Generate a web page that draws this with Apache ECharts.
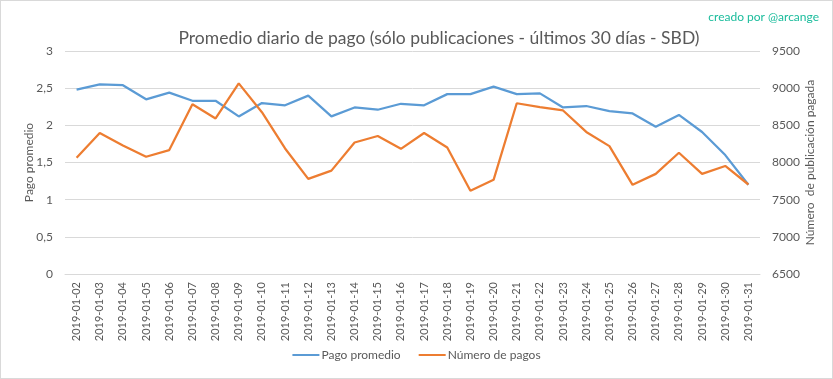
<!DOCTYPE html>
<html>
<head>
<meta charset="utf-8">
<script src="https://cdn.jsdelivr.net/npm/echarts@6/dist/echarts.min.js"></script>
<style>
html,body{margin:0;padding:0;background:#fff;}
#c{width:833px;height:379px;box-sizing:border-box;border:1px solid #d9d9d9;}
</style>
</head>
<body>
<div id="c"></div>
<script>
const categories = ['2019-01-02','2019-01-03','2019-01-04','2019-01-05','2019-01-06','2019-01-07','2019-01-08','2019-01-09','2019-01-10','2019-01-11','2019-01-12','2019-01-13','2019-01-14','2019-01-15','2019-01-16','2019-01-17','2019-01-18','2019-01-19','2019-01-20','2019-01-21','2019-01-22','2019-01-23','2019-01-24','2019-01-25','2019-01-26','2019-01-27','2019-01-28','2019-01-29','2019-01-30','2019-01-31'];
const pagoPromedio = [2.48,2.55,2.54,2.35,2.44,2.33,2.33,2.12,2.30,2.27,2.40,2.12,2.24,2.21,2.29,2.27,2.42,2.42,2.52,2.42,2.43,2.24,2.26,2.19,2.16,1.98,2.14,1.91,1.60,1.20];
const numeroPagos = [8064,8397,8229,8077,8167,8784,8593,9064,8677,8189,7780,7891,8269,8357,8184,8397,8202,7620,7767,8797,8744,8700,8411,8220,7700,7847,8131,7847,7953,7704];
const titleText = 'Promedio diario de pago (sólo publicaciones - últimos 30 días - SBD)';
const creditText = 'creado por @arcange';

const chart = echarts.init(document.getElementById('c'));
const FONT = 'Lato';
const GREY = '#595959';
chart.setOption({
  animation:false,
  textStyle:{fontFamily:FONT},
  title:[{
    text:titleText, left:433, top:23, textAlign:'center',
    textStyle:{fontFamily:FONT,fontSize:17.5,fontWeight:'normal',color:GREY}
  },{
    text:creditText, right:8, top:5,
    textStyle:{fontFamily:FONT,fontSize:12,fontWeight:'normal',color:'#1abc9c'}
  }],
  legend:{
    bottom:12, left:'center', itemWidth:27, itemHeight:2, itemGap:18, icon:'rect',
    textStyle:{fontFamily:FONT,fontSize:12,color:GREY,padding:[0,0,0,-3]},
    data:['Pago promedio','Número de pagos']
  },
  grid:{left:64,right:72,top:50,bottom:104},
  xAxis:{
    type:'category', data:categories, boundaryGap:true,
    axisLine:{lineStyle:{color:'#d9d9d9'}}, axisTick:{show:false},
    axisLabel:{rotate:90,interval:0,color:GREY,fontSize:11,fontFamily:FONT,margin:8}
  },
  yAxis:[{
    type:'value', min:0, max:3, interval:0.5,
    name:'Pago promedio', nameLocation:'middle', nameGap:30, nameRotate:90, nameMoveOverlap:false,
    nameTextStyle:{color:GREY,fontSize:12,fontFamily:FONT},
    axisLine:{show:false}, axisTick:{show:false},
    axisLabel:{color:GREY,fontSize:12,fontFamily:FONT,margin:12,formatter:v=>String(v).replace('.',',')},
    splitLine:{lineStyle:{color:'#d9d9d9'}}
  },{
    type:'value', min:6500, max:9500, interval:500,
    name:'Número  de publicación pagada', nameLocation:'middle', nameGap:44, nameRotate:90, nameMoveOverlap:false,
    nameTextStyle:{color:GREY,fontSize:12,fontFamily:FONT},
    axisLine:{show:false}, axisTick:{show:false},
    axisLabel:{color:GREY,fontSize:12,fontFamily:FONT,margin:12,formatter:v=>String(v)},
    splitLine:{show:false}
  }],
  series:[{
    name:'Pago promedio', type:'line', yAxisIndex:0, data:pagoPromedio,
    symbol:'none', lineStyle:{color:'#5b9bd5',width:2.25}, itemStyle:{color:'#5b9bd5'}
  },{
    name:'Número de pagos', type:'line', yAxisIndex:1, data:numeroPagos,
    symbol:'none', lineStyle:{color:'#ed7d31',width:2.25}, itemStyle:{color:'#ed7d31'}
  }]
});
</script>
</body>
</html>
